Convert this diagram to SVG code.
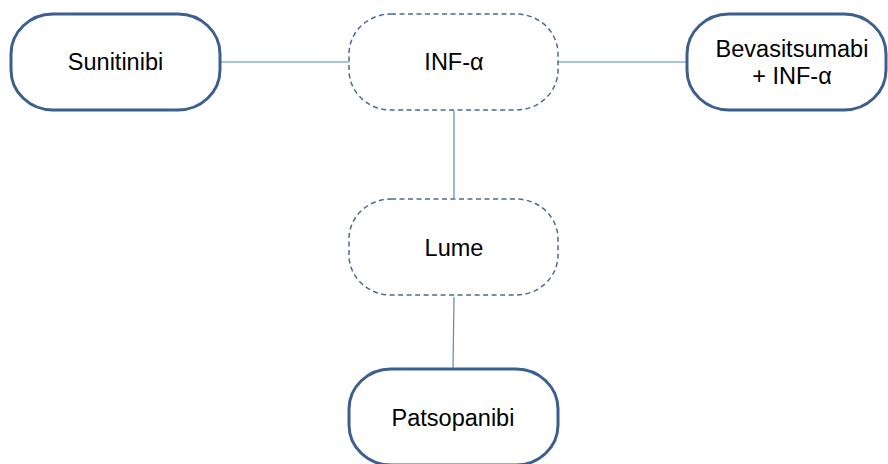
<svg xmlns="http://www.w3.org/2000/svg" width="888" height="464" viewBox="0 0 888 464">
<style>
.solid{fill:#fff;stroke:#3c5f8f;stroke-width:3}
.dash{fill:#fff;stroke:#4a6a94;stroke-width:1.5;stroke-dasharray:5 3.5}
.lbl{font-family:"Liberation Sans",Arial,sans-serif;font-size:23.5px;fill:#000;text-anchor:middle}
.conn{stroke:#5b87c0;stroke-width:1.2;fill:none}
</style>
<rect width="888" height="464" fill="#fff"/>
<g id="connectors">
<line class="conn" x1="221" y1="62" x2="349" y2="62"/>
<line class="conn" x1="558" y1="62" x2="686" y2="62"/>
<line class="conn" x1="454" y1="111" x2="454" y2="198" stroke="#4d6d96"/>
<line class="conn" x1="454" y1="297" x2="453" y2="368"/>
</g>
<g id="sunitinibi">
<rect class="solid" x="11" y="14" width="209" height="96" rx="42" ry="40"/>
<text class="lbl" x="115.5" y="70">Sunitinibi</text>
</g>
<g id="inf">
<rect class="dash" x="349" y="14" width="209" height="96" rx="42" ry="40"/>
<text class="lbl" x="454" y="70">INF-α</text>
</g>
<g id="bevasitsumabi">
<rect class="solid" x="687" y="14" width="199" height="96" rx="42" ry="40"/>
<text class="lbl" x="792" y="57">Bevasitsumabi</text>
<text class="lbl" x="792" y="84">+ INF-α</text>
</g>
<g id="lume">
<rect class="dash" x="349" y="199" width="209" height="96" rx="42" ry="40"/>
<text class="lbl" x="454" y="256">Lume</text>
</g>
<g id="patsopanibi">
<rect class="solid" x="349" y="369" width="209" height="96" rx="42" ry="40"/>
<text class="lbl" x="453" y="426">Patsopanibi</text>
</g>
</svg>
